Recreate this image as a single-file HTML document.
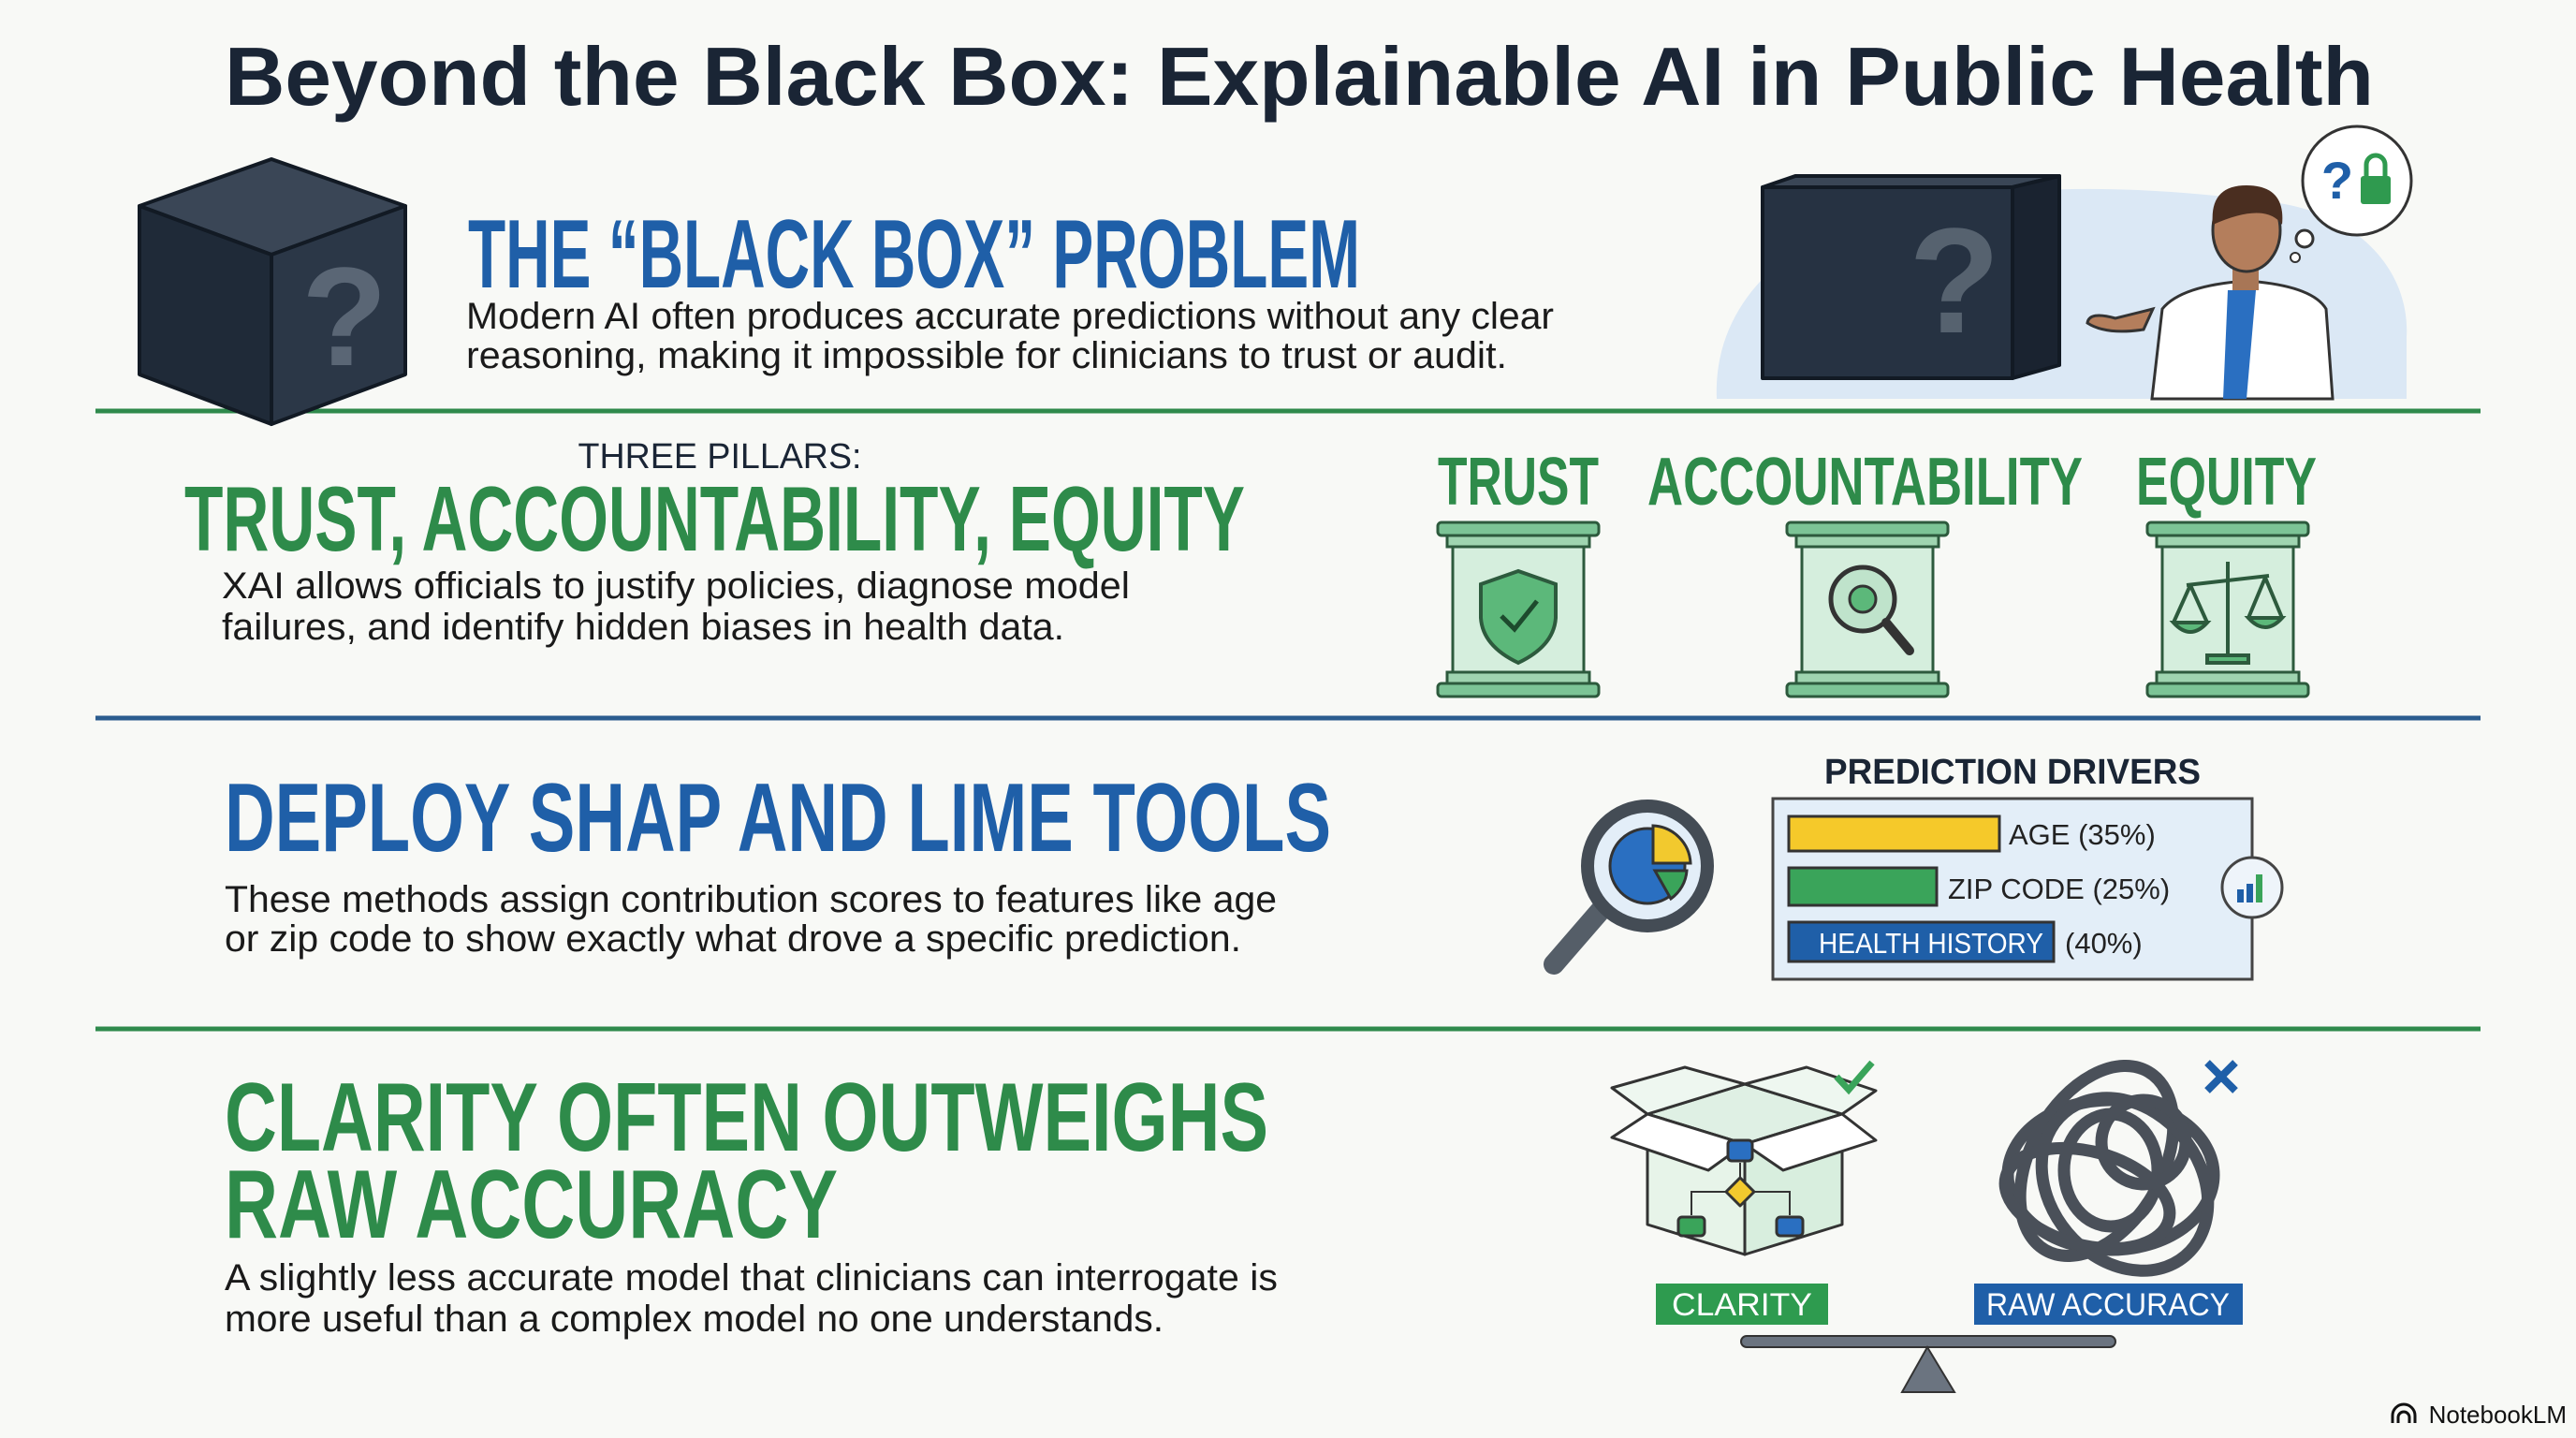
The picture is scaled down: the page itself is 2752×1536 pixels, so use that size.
<!DOCTYPE html>
<html><head><meta charset="utf-8"><style>
html,body{margin:0;padding:0;background:#f8f9f6;}
svg{display:block}
text{font-family:"Liberation Sans",sans-serif}
.h{font-family:"Liberation Sans Narrow","Liberation Sans",sans-serif;font-weight:bold}
</style></head><body>
<svg width="2752" height="1536" viewBox="0 0 2752 1536" xmlns="http://www.w3.org/2000/svg">
<rect width="2752" height="1536" fill="#f8f9f6"/>
<!-- Title -->
<text x="240" y="112" font-size="88" font-weight="bold" fill="#1a2535" textLength="2296" lengthAdjust="spacingAndGlyphs">Beyond the Black Box: Explainable AI in Public Health</text>

<!-- Section 1 -->
<line x1="102" y1="439" x2="2650" y2="439" stroke="#2f8a4c" stroke-width="5"/>
<!-- left cube -->
<g stroke="#121a24" stroke-width="4" stroke-linejoin="round">
<polygon points="149,220 290,170 433,220 290,272" fill="#3a4656"/>
<polygon points="149,220 290,272 290,453 149,400" fill="#1f2a38"/>
<polygon points="290,272 433,220 433,400 290,453" fill="#2b3747"/>
</g>
<text x="368" y="390" font-size="150" font-weight="bold" fill="#5a6675" text-anchor="middle">?</text>
<text class="h" x="500" y="307" font-size="104" fill="#1f5fa8" textLength="953" lengthAdjust="spacingAndGlyphs">THE “BLACK BOX” PROBLEM</text>
<text x="498" y="351" font-size="40" fill="#1a1a1a" textLength="1162" lengthAdjust="spacingAndGlyphs">Modern AI often produces accurate predictions without any clear</text>
<text x="498" y="393" font-size="40" fill="#1a1a1a" textLength="1112" lengthAdjust="spacingAndGlyphs">reasoning, making it impossible for clinicians to trust or audit.</text>

<!-- right illustration -->
<path d="M1834,426 C1830,330 1900,260 2000,230 C2150,190 2300,200 2420,215 C2520,225 2575,290 2571,360 L2571,426 Z" fill="#dbe8f5"/>
<g stroke="#121a24" stroke-width="4" stroke-linejoin="round">
<polygon points="1883,200 1918,188 2200,188 2150,200" fill="#3a4656"/>
<polygon points="2150,200 2200,188 2200,390 2150,404" fill="#1a2330"/>
<rect x="1883" y="200" width="267" height="204" fill="#263242"/>
</g>
<text x="2088" y="355" font-size="160" font-weight="bold" fill="#56626f" text-anchor="middle">?</text>
<!-- doctor -->
<path d="M2299,426 L2310,330 Q2330,305 2400,300 Q2470,305 2485,330 L2492,426 Z" fill="#fff" stroke="#333" stroke-width="3"/>
<path d="M2380,310 L2375,426 L2400,426 L2410,310 Z" fill="#2a6fc1"/>
<rect x="2385" y="280" width="28" height="30" fill="#a87656"/>
<ellipse cx="2400" cy="246" rx="36" ry="44" fill="#b47e5c" stroke="#333" stroke-width="3"/>
<path d="M2364,240 Q2360,198 2400,198 Q2442,198 2438,240 Q2420,215 2364,240 Z" fill="#4a2e20"/>
<path d="M2300,330 L2260,340 Q2232,332 2230,345 Q2250,358 2290,352 Z" fill="#b47e5c" stroke="#333" stroke-width="3"/>
<circle cx="2518" cy="193" r="58" fill="#fff" stroke="#333" stroke-width="3"/>
<circle cx="2462" cy="255" r="9" fill="#fff" stroke="#333" stroke-width="3"/>
<circle cx="2452" cy="275" r="5" fill="#fff" stroke="#333" stroke-width="2"/>
<text x="2497" y="212" font-size="56" font-weight="bold" fill="#1f5fa8" text-anchor="middle">?</text>
<rect x="2522" y="188" width="32" height="30" rx="3" fill="#2f9a4f"/>
<path d="M2528,188 V176 a10,10 0 0 1 20,0 V188" fill="none" stroke="#2f9a4f" stroke-width="5"/>

<!-- Section 2 -->
<text x="769" y="500" font-size="38" fill="#1a2535" text-anchor="middle" textLength="303" lengthAdjust="spacingAndGlyphs">THREE PILLARS:</text>
<text class="h" x="197" y="588" font-size="98" fill="#2e8b4a" textLength="1133" lengthAdjust="spacingAndGlyphs">TRUST, ACCOUNTABILITY, EQUITY</text>
<text x="237" y="639" font-size="40" fill="#1a1a1a" textLength="970" lengthAdjust="spacingAndGlyphs">XAI allows officials to justify policies, diagnose model</text>
<text x="237" y="683" font-size="40" fill="#1a1a1a" textLength="900" lengthAdjust="spacingAndGlyphs">failures, and identify hidden biases in health data.</text>

<text class="h" x="1536" y="539" font-size="72" fill="#2e8b4a" textLength="172" lengthAdjust="spacingAndGlyphs">TRUST</text>
<text class="h" x="1760" y="539" font-size="72" fill="#2e8b4a" textLength="465" lengthAdjust="spacingAndGlyphs">ACCOUNTABILITY</text>
<text class="h" x="2282" y="539" font-size="72" fill="#2e8b4a" textLength="193" lengthAdjust="spacingAndGlyphs">EQUITY</text>
<g stroke="#2d5a3d" stroke-width="3">
<g id="p1">
<rect x="1536" y="558" width="172" height="14" rx="4" fill="#7cc496"/>
<rect x="1546" y="572" width="152" height="12" fill="#9fd4b0"/>
<rect x="1552" y="584" width="140" height="134" fill="#d5eedd"/>
<rect x="1546" y="718" width="152" height="12" fill="#9fd4b0"/>
<rect x="1536" y="730" width="172" height="14" rx="4" fill="#7cc496"/>
</g>
<use href="#p1" x="373"/>
<use href="#p1" x="758"/>
</g>
<path d="M1622,610 L1582,624 L1582,660 Q1584,690 1622,708 Q1660,690 1662,660 L1662,624 Z" fill="#5cb87a" stroke="#2d5a3d" stroke-width="4"/>
<path d="M1604,658 L1618,672 L1642,642" fill="none" stroke="#1d4a2d" stroke-width="5"/>
<circle cx="1990" cy="640" r="34" fill="#bfe3cb" stroke="#333" stroke-width="5"/>
<circle cx="1990" cy="640" r="14" fill="#5cb87a" stroke="#333" stroke-width="3"/>
<line x1="2015" y1="665" x2="2040" y2="695" stroke="#333" stroke-width="10" stroke-linecap="round"/>
<g stroke="#2d5a3d" stroke-width="4" fill="none">
<line x1="2380" y1="600" x2="2380" y2="700"/>
<line x1="2336" y1="625" x2="2424" y2="615"/>
<path d="M2322,665 Q2340,685 2358,665 Z" fill="#5cb87a"/>
<path d="M2402,660 Q2420,680 2438,660 Z" fill="#5cb87a"/>
<line x1="2340" y1="625" x2="2322" y2="665"/><line x1="2340" y1="625" x2="2358" y2="665"/>
<line x1="2420" y1="617" x2="2402" y2="660"/><line x1="2420" y1="617" x2="2438" y2="660"/>
<rect x="2358" y="700" width="44" height="8" fill="#5cb87a"/>
</g>

<line x1="102" y1="767" x2="2650" y2="767" stroke="#2b5c8f" stroke-width="5"/>

<!-- Section 3 -->
<text class="h" x="240" y="909" font-size="104" fill="#1f5fa8" textLength="1182" lengthAdjust="spacingAndGlyphs">DEPLOY SHAP AND LIME TOOLS</text>
<text x="240" y="974" font-size="40" fill="#1a1a1a" textLength="1124" lengthAdjust="spacingAndGlyphs">These methods assign contribution scores to features like age</text>
<text x="240" y="1016" font-size="40" fill="#1a1a1a" textLength="1086" lengthAdjust="spacingAndGlyphs">or zip code to show exactly what drove a specific prediction.</text>

<line x1="1712" y1="970" x2="1660" y2="1030" stroke="#555e68" stroke-width="22" stroke-linecap="round"/>
<circle cx="1760" cy="925" r="64" fill="#e3eef8" stroke="#444c55" stroke-width="14"/>
<circle cx="1760" cy="925" r="40" fill="#2a6fc1" stroke="#333" stroke-width="3"/>
<path d="M1766,882 A42,42 0 0 1 1806,922 L1766,922 Z" fill="#f2c92e" stroke="#333" stroke-width="3"/>
<path d="M1768,930 L1802,930 A40,40 0 0 1 1785,960 Z" fill="#3aa45a" stroke="#333" stroke-width="3"/>

<text x="2150" y="837" font-size="38" font-weight="bold" fill="#1a2535" text-anchor="middle" textLength="402" lengthAdjust="spacingAndGlyphs">PREDICTION DRIVERS</text>
<rect x="1894" y="853" width="512" height="193" fill="#e3eef8" stroke="#444" stroke-width="3"/>
<rect x="1911" y="872" width="225" height="37" fill="#f5c92a" stroke="#333" stroke-width="3"/>
<text x="2146" y="902" font-size="31" fill="#222">AGE (35%)</text>
<rect x="1911" y="927" width="158" height="40" fill="#3aa45a" stroke="#333" stroke-width="3"/>
<text x="2081" y="960" font-size="31" fill="#222">ZIP CODE (25%)</text>
<rect x="1911" y="985" width="283" height="42" fill="#1f5fa8" stroke="#333" stroke-width="3"/>
<text x="1943" y="1018" font-size="31" fill="#fff" textLength="240" lengthAdjust="spacingAndGlyphs">HEALTH HISTORY</text>
<text x="2206" y="1018" font-size="31" fill="#222">(40%)</text>
<circle cx="2406" cy="948" r="32" fill="#eef4fa" stroke="#444" stroke-width="3"/>
<rect x="2390" y="950" width="7" height="14" fill="#1f5fa8"/><rect x="2400" y="944" width="7" height="20" fill="#1f5fa8"/><rect x="2410" y="934" width="7" height="30" fill="#3aa45a"/>

<line x1="102" y1="1099" x2="2650" y2="1099" stroke="#2f8a4c" stroke-width="5"/>

<!-- Section 4 -->
<text class="h" x="240" y="1229" font-size="104" fill="#2e8b4a" textLength="1115" lengthAdjust="spacingAndGlyphs">CLARITY OFTEN OUTWEIGHS</text>
<text class="h" x="240" y="1322" font-size="104" fill="#2e8b4a" textLength="655" lengthAdjust="spacingAndGlyphs">RAW ACCURACY</text>
<text x="240" y="1378" font-size="40" fill="#1a1a1a" textLength="1125" lengthAdjust="spacingAndGlyphs">A slightly less accurate model that clinicians can interrogate is</text>
<text x="240" y="1422" font-size="40" fill="#1a1a1a" textLength="1003" lengthAdjust="spacingAndGlyphs">more useful than a complex model no one understands.</text>

<!-- open box -->
<g stroke="#333" stroke-width="3" stroke-linejoin="round">
<polygon points="1760,1190 1864,1158 1968,1190 1864,1222" fill="#dff0e4"/>
<polygon points="1760,1190 1864,1222 1864,1340 1760,1308" fill="#e4f3e8" fill-opacity="0.9"/>
<polygon points="1864,1222 1968,1190 1968,1308 1864,1340" fill="#d4ecdb" fill-opacity="0.9"/>
<polygon points="1760,1190 1722,1162 1800,1140 1864,1158" fill="#eef7f0"/>
<polygon points="1864,1158 1930,1140 2004,1165 1968,1190" fill="#eef7f0"/>
<polygon points="1760,1190 1722,1215 1825,1250 1864,1222" fill="#fff"/>
<polygon points="1864,1222 1905,1250 2004,1218 1968,1190" fill="#fff"/>
<rect x="1846" y="1218" width="26" height="22" rx="4" fill="#2a6fc1"/>
<polygon points="1859,1258 1874,1273 1859,1288 1844,1273" fill="#f2c92e"/>
<rect x="1793" y="1300" width="28" height="20" rx="4" fill="#3aa45a"/>
<rect x="1898" y="1300" width="28" height="20" rx="4" fill="#2a6fc1"/>
</g>
<path d="M1807,1298 V1273 H1844 M1874,1273 H1912 V1298 M1859,1258 V1242" stroke="#333" stroke-width="2" fill="none"/>
<path d="M1962,1150 L1975,1164 L2000,1135" fill="none" stroke="#3aa45a" stroke-width="7"/>
<!-- knot -->
<g fill="none" stroke="#4a5059" stroke-width="13">
<ellipse cx="2255" cy="1255" rx="110" ry="80"/>
<ellipse cx="2240" cy="1240" rx="70" ry="110" transform="rotate(30 2240 1240)"/>
<ellipse cx="2270" cy="1265" rx="80" ry="100" transform="rotate(-40 2270 1265)"/>
<ellipse cx="2255" cy="1250" rx="50" ry="60"/>
<ellipse cx="2230" cy="1280" rx="90" ry="50" transform="rotate(15 2230 1280)"/>
<circle cx="2290" cy="1220" r="45"/>
</g>
<path d="M2358,1135 L2388,1165 M2388,1135 L2358,1165" stroke="#1f5fa8" stroke-width="8"/>
<rect x="1769" y="1371" width="184" height="44" fill="#2e9b4f"/>
<text x="1861" y="1405" font-size="34" fill="#fff" text-anchor="middle" textLength="150" lengthAdjust="spacingAndGlyphs">CLARITY</text>
<rect x="2109" y="1371" width="287" height="44" fill="#1f5fa8"/>
<text x="2252" y="1405" font-size="34" fill="#fff" text-anchor="middle" textLength="260" lengthAdjust="spacingAndGlyphs">RAW ACCURACY</text>
<rect x="1860" y="1427" width="400" height="12" rx="6" fill="#6b7480" stroke="#333" stroke-width="2"/>
<polygon points="2059,1439 2032,1487 2088,1487" fill="#6b7480" stroke="#333" stroke-width="2"/>

<text x="2742" y="1520" font-size="26" fill="#111" text-anchor="end">NotebookLM</text>
<path d="M2556,1520 v-8 a12,12 0 0 1 24,0 v8 M2562,1520 v-6 a6,6 0 0 1 12,0 v6" fill="none" stroke="#111" stroke-width="3"/>
</svg>
</body></html>
